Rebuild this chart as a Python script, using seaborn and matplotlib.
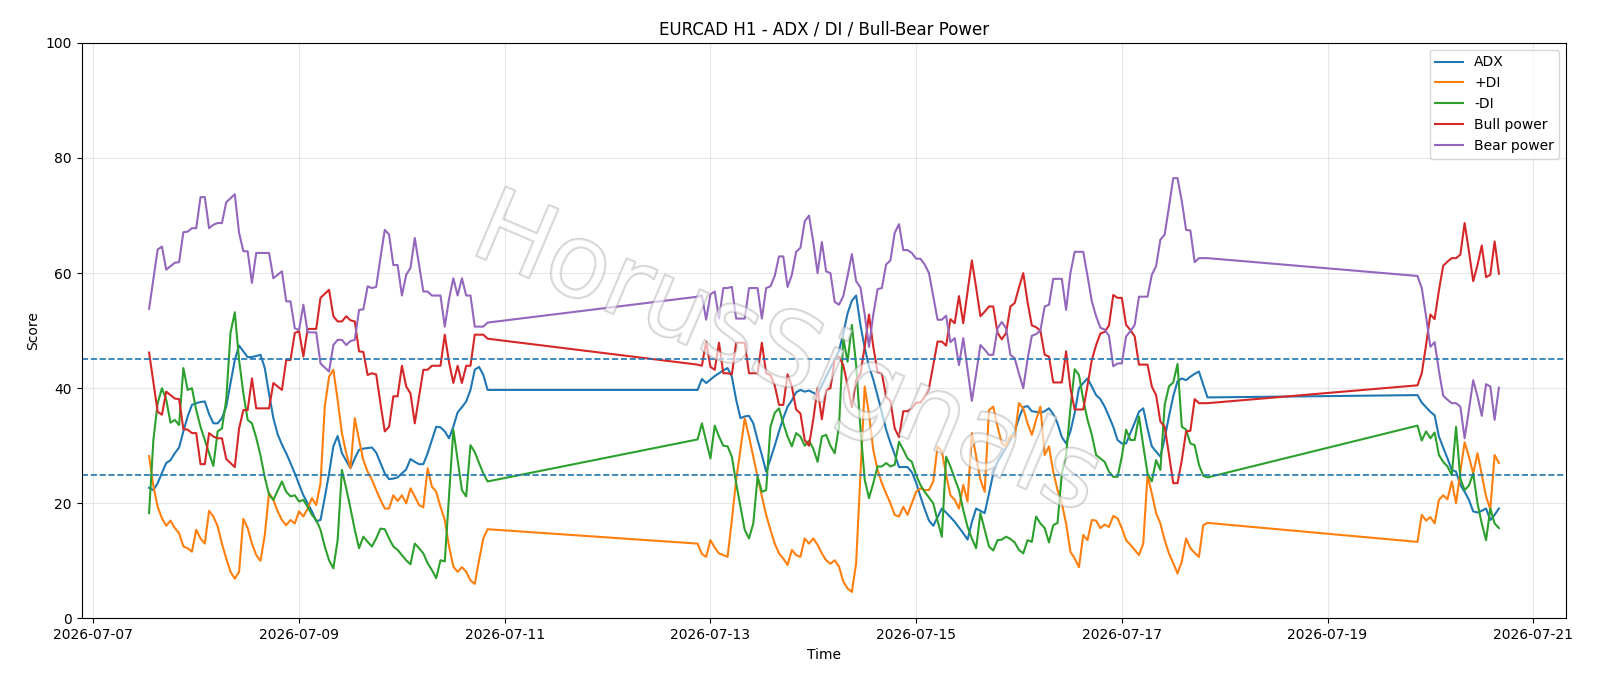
import matplotlib
matplotlib.use("Agg")
import matplotlib.pyplot as plt
import matplotlib.dates as mdates
import matplotlib.patheffects as pe
import pandas as pd
import seaborn as sns

# Hourly bars, three trading blocks separated by weekend / data gaps
seg_starts = ["2026-07-07 13:00", "2026-07-12 21:00", "2026-07-19 21:00"]
seg_sizes = [80, 120, 20]

adx = [
    # block 1
    22.7, 22.3, 23.5, 25.3, 27.0, 27.5, 28.7, 29.7, 32.5, 35.1,
    37.1, 37.4, 37.6, 37.7, 35.5, 33.9, 33.9, 34.8, 36.8, 40.9,
    44.9, 47.4, 46.4, 45.4, 45.4, 45.6, 45.8, 43.5, 39.0, 34.8,
    32.0, 30.2, 28.7, 27.0, 25.2, 23.3, 21.4, 20.0, 18.6, 16.9,
    17.1, 21.0, 25.2, 29.9, 31.7, 28.7, 27.4, 26.1, 27.8, 29.3,
    29.5, 29.6, 29.7, 28.8, 27.0, 25.2, 24.2, 24.3, 24.5, 25.2,
    25.9, 27.7, 27.2, 26.8, 26.8, 28.7, 31.0, 33.3, 33.2, 32.5,
    31.3, 33.3, 35.8, 36.7, 37.7, 39.7, 43.2, 43.7, 42.3, 39.7,
    # block 2
    39.7, 41.6, 40.9, 41.5, 42.1, 42.6, 43.1, 43.5, 42.0, 38.0,
    34.8, 35.1, 35.2, 33.9, 31.0, 28.4, 25.5, 27.7, 30.0, 32.5,
    34.8, 36.8, 37.9, 39.3, 39.7, 39.4, 39.6, 39.2, 38.8, 40.5,
    42.0, 43.5, 45.0, 46.5, 49.5, 53.0, 55.2, 56.1, 51.0, 47.0,
    43.8, 41.5, 38.7, 35.8, 32.8, 30.5, 28.5, 26.3, 26.3, 26.3,
    25.4, 23.6, 21.2, 19.0, 17.0, 16.1, 17.6, 19.1, 18.4, 17.6,
    16.8, 15.8, 14.8, 13.7, 16.7, 19.1, 18.7, 18.3, 21.7, 25.2,
    27.2, 28.4, 29.7, 31.0, 32.5, 34.8, 36.7, 36.9, 36.0, 35.9,
    35.7, 36.0, 36.5, 35.5, 33.9, 31.5, 30.4, 32.5, 35.7, 40.0,
    40.9, 41.7, 40.3, 38.8, 38.1, 36.8, 35.1, 33.3, 31.0, 30.4,
    30.4, 32.2, 34.0, 35.9, 36.5, 33.0, 29.9, 29.0, 28.1, 31.3,
    35.1, 38.6, 41.2, 41.7, 41.4, 42.0, 42.5, 42.9, 40.6, 38.4,
    # block 3
    38.8, 37.5, 36.7, 35.9, 35.3, 31.6, 29.7, 27.8, 25.8, 25.5,
    23.2, 22.0, 20.6, 18.6, 18.4, 18.7, 19.1, 17.1, 18.0, 19.1,
]

plus_di = [
    28.2, 23.0, 19.4, 17.4, 16.1, 17.0, 15.7, 14.8, 12.5, 12.2,
    11.6, 15.4, 13.9, 13.0, 18.7, 17.7, 16.0, 13.0, 10.4, 8.1,
    6.9, 8.1, 17.3, 15.7, 13.0, 11.0, 10.0, 14.5, 21.8, 20.6,
    18.6, 17.1, 16.2, 17.1, 16.5, 18.6, 17.7, 19.1, 20.9, 19.7,
    23.5, 36.8, 42.0, 43.2, 38.0, 32.2, 28.7, 26.1, 34.8, 31.0,
    27.5, 25.5, 24.1, 22.3, 20.6, 19.1, 19.1, 21.4, 20.4, 21.4,
    20.0, 22.6, 21.2, 19.7, 19.3, 26.1, 22.9, 22.0, 19.4, 17.1,
    12.5, 9.0, 8.1, 8.9, 8.1, 6.6, 6.0, 10.1, 13.9, 15.5,
    13.0, 11.2, 10.7, 13.6, 12.3, 11.3, 11.0, 10.7, 17.1, 24.1,
    29.3, 34.8, 31.6, 28.1, 24.6, 21.2, 18.0, 15.4, 13.0, 11.3,
    10.4, 9.3, 11.9, 11.0, 10.7, 13.9, 13.0, 13.9, 12.8, 11.3,
    10.1, 9.5, 10.1, 9.0, 6.4, 5.2, 4.6, 9.6, 25.0, 40.3,
    35.5, 29.3, 25.8, 23.5, 21.7, 20.0, 18.0, 17.7, 19.4, 18.0,
    20.0, 22.0, 22.6, 22.3, 22.3, 23.8, 29.9, 29.0, 25.0, 21.4,
    20.6, 19.1, 23.2, 20.3, 32.2, 28.1, 24.1, 22.0, 36.2, 36.8,
    33.3, 30.4, 29.9, 31.7, 31.6, 37.4, 36.5, 33.9, 31.9, 34.5,
    36.8, 28.4, 29.9, 25.5, 22.3, 20.0, 16.5, 11.6, 10.4, 8.9,
    14.5, 13.6, 17.1, 17.0, 15.7, 16.3, 15.9, 17.8, 17.4, 15.7,
    13.6, 12.8, 11.9, 11.0, 13.0, 24.9, 21.7, 18.3, 16.5, 13.6,
    11.3, 9.6, 7.8, 9.9, 13.9, 12.2, 11.4, 10.7, 16.2, 16.6,
    13.3, 18.0, 17.0, 17.6, 16.5, 20.6, 21.4, 20.7, 23.8, 20.0,
    25.5, 30.6, 28.1, 25.2, 28.7, 25.0, 21.2, 19.0, 28.4, 27.0,
]

minus_di = [
    18.3, 31.0, 37.4, 40.0, 38.0, 34.0, 34.5, 33.6, 43.5, 39.7,
    40.0, 36.2, 33.3, 31.0, 28.7, 26.5, 32.5, 33.0, 38.0, 49.6,
    53.2, 44.9, 39.1, 34.5, 33.9, 31.4, 28.3, 24.5, 21.5, 20.6,
    22.2, 23.8, 22.0, 21.2, 21.4, 20.3, 20.6, 19.4, 18.0, 17.1,
    15.4, 12.5, 10.1, 8.7, 13.6, 25.8, 22.6, 19.1, 15.4, 12.2,
    14.2, 13.3, 12.5, 13.9, 15.6, 15.5, 13.9, 12.5, 11.9, 11.0,
    10.1, 9.4, 13.0, 12.2, 11.3, 9.6, 8.4, 7.0, 10.1, 9.9,
    21.3, 32.8, 27.5, 22.3, 21.2, 30.1, 28.9, 27.0, 25.2, 23.8,
    31.1, 33.9, 30.8, 27.8, 33.5, 31.6, 30.0, 29.9, 28.1, 23.5,
    19.4, 15.4, 13.9, 16.5, 24.6, 22.0, 22.3, 33.3, 35.7, 36.5,
    33.9, 31.6, 29.9, 32.2, 31.6, 30.0, 30.9, 29.5, 27.2, 31.6,
    31.9, 30.0, 28.7, 33.3, 48.7, 44.6, 51.0, 44.0, 33.0, 24.1,
    20.9, 23.5, 26.4, 26.4, 27.0, 26.4, 26.7, 30.7, 29.3, 27.8,
    27.2, 24.9, 23.2, 22.0, 21.0, 20.0, 17.0, 14.2, 28.1, 26.4,
    24.3, 22.3, 18.8, 15.9, 13.9, 12.2, 18.3, 15.4, 12.5, 11.8,
    13.6, 13.7, 14.2, 13.8, 13.2, 11.9, 11.3, 13.6, 13.3, 17.7,
    16.5, 15.7, 13.2, 16.2, 16.6, 25.2, 28.4, 36.5, 43.3, 42.3,
    38.0, 34.5, 31.9, 28.4, 27.8, 27.2, 25.5, 24.6, 24.6, 28.1,
    32.8, 31.0, 31.0, 35.1, 30.0, 25.2, 23.8, 27.5, 25.8, 37.1,
    40.3, 41.0, 44.2, 33.3, 32.8, 30.4, 30.1, 26.7, 24.8, 24.5,
    33.5, 30.9, 32.5, 31.3, 32.3, 28.4, 27.2, 26.4, 24.9, 33.3,
    24.3, 22.3, 23.1, 25.2, 20.0, 16.5, 13.6, 19.1, 16.5, 15.7,
]

bull_power = [
    46.2, 41.0, 35.9, 35.4, 39.4, 38.8, 38.2, 38.1, 32.9, 32.8,
    32.2, 32.2, 26.8, 26.8, 32.2, 31.6, 31.3, 31.3, 27.7, 27.0,
    26.3, 33.0, 36.2, 36.2, 41.7, 36.5, 36.5, 36.5, 36.5, 40.9,
    40.3, 39.7, 44.9, 44.9, 49.6, 49.9, 45.5, 50.3, 50.3, 50.3,
    55.7, 56.4, 57.1, 52.5, 51.6, 51.6, 52.5, 51.8, 51.6, 46.4,
    46.3, 42.3, 42.6, 42.4, 37.3, 32.5, 33.3, 38.6, 38.6, 43.9,
    40.3, 39.1, 33.9, 38.5, 43.2, 43.2, 43.9, 43.9, 43.9, 49.3,
    44.5, 40.9, 43.9, 40.9, 43.9, 43.9, 49.3, 49.3, 49.3, 48.6,
    44.1, 43.9, 48.1, 43.7, 43.2, 47.9, 42.6, 42.6, 42.4, 47.9,
    47.9, 47.9, 42.6, 42.6, 42.6, 47.9, 42.6, 42.3, 40.5, 37.1,
    37.1, 42.4, 40.3, 36.3, 35.6, 31.0, 30.0, 34.6, 40.0, 34.6,
    39.7, 40.0, 45.0, 45.5, 44.0, 40.5, 36.7, 41.4, 42.5, 47.2,
    52.8, 47.2, 42.8, 42.6, 38.5, 37.8, 33.0, 31.5, 36.0, 36.0,
    36.5, 37.5, 37.5, 38.5, 40.0, 44.0, 48.1, 48.1, 47.4, 52.0,
    51.3, 56.0, 51.3, 56.7, 62.2, 57.5, 52.5, 53.3, 54.2, 54.2,
    49.6, 48.5, 49.6, 54.2, 54.8, 57.5, 60.0, 55.0, 50.9, 50.6,
    50.0, 45.8, 45.5, 41.0, 41.0, 41.0, 46.4, 40.0, 36.3, 36.3,
    36.3, 40.5, 44.9, 47.5, 49.5, 49.8, 50.9, 56.2, 55.7, 55.7,
    51.0, 50.1, 49.0, 44.1, 44.1, 44.1, 40.3, 38.8, 34.2, 33.3,
    28.5, 23.5, 23.5, 27.5, 32.5, 32.6, 38.1, 37.4, 37.4, 37.4,
    40.5, 42.6, 47.5, 52.8, 52.0, 57.0, 61.3, 62.0, 62.6, 62.6,
    63.2, 68.7, 63.8, 58.6, 61.4, 64.8, 59.3, 59.7, 65.5, 59.9,
]

bear_power = [
    53.8, 59.0, 64.1, 64.6, 60.6, 61.2, 61.8, 61.9, 67.1, 67.2,
    67.8, 67.8, 73.2, 73.2, 67.8, 68.4, 68.7, 68.7, 72.3, 73.0,
    73.7, 67.0, 63.8, 63.8, 58.3, 63.5, 63.5, 63.5, 63.5, 59.1,
    59.7, 60.3, 55.1, 55.1, 50.4, 50.1, 54.5, 49.7, 49.7, 49.7,
    44.3, 43.6, 42.9, 47.5, 48.4, 48.4, 47.5, 48.2, 48.4, 53.6,
    53.7, 57.7, 57.4, 57.6, 62.7, 67.5, 66.7, 61.4, 61.4, 56.1,
    59.7, 60.9, 66.1, 61.5, 56.8, 56.8, 56.1, 56.1, 56.1, 50.7,
    55.5, 59.1, 56.1, 59.1, 56.1, 56.1, 50.7, 50.7, 50.7, 51.4,
    55.9, 56.1, 51.9, 56.3, 56.8, 52.1, 57.4, 57.4, 57.6, 52.1,
    52.1, 52.1, 57.4, 57.4, 57.4, 52.1, 57.4, 57.7, 59.5, 62.9,
    62.9, 57.6, 59.7, 63.7, 64.4, 69.0, 70.0, 65.4, 60.0, 65.4,
    60.3, 60.0, 55.0, 54.5, 56.0, 59.5, 63.3, 58.6, 57.5, 52.8,
    47.2, 52.8, 57.2, 57.4, 61.5, 62.2, 67.0, 68.5, 64.0, 64.0,
    63.5, 62.5, 62.5, 61.5, 60.0, 56.0, 51.9, 51.9, 52.6, 48.0,
    48.7, 44.0, 48.7, 43.3, 37.8, 42.5, 47.5, 46.7, 45.8, 45.8,
    50.4, 51.5, 50.4, 45.8, 45.2, 42.5, 40.0, 45.0, 49.1, 49.4,
    50.0, 54.2, 54.5, 59.0, 59.0, 59.0, 53.6, 60.0, 63.7, 63.7,
    63.7, 59.5, 55.1, 52.5, 50.5, 50.2, 49.1, 43.8, 44.3, 44.3,
    49.0, 49.9, 51.0, 55.9, 55.9, 55.9, 59.7, 61.2, 65.8, 66.7,
    71.5, 76.5, 76.5, 72.5, 67.5, 67.4, 61.9, 62.6, 62.6, 62.6,
    59.5, 57.4, 52.5, 47.2, 48.0, 43.0, 38.7, 38.0, 37.4, 37.4,
    36.8, 31.3, 36.2, 41.4, 38.6, 35.2, 40.7, 40.3, 34.5, 40.1,
]

series_names = ["ADX", "+DI", "-DI", "Bull power", "Bear power"]
series_colours = ["tab:blue", "tab:orange", "tab:green", "tab:red", "tab:purple"]
threshold_levels = [45, 25]

# Build the time axis
times = []
for start, size in zip(seg_starts, seg_sizes):
    times.extend(pd.date_range(start, periods=size, freq="h"))

df = pd.DataFrame({
    "Time": times,
    "ADX": adx,
    "+DI": plus_di,
    "-DI": minus_di,
    "Bull power": bull_power,
    "Bear power": bear_power,
})

# Plot
fig, ax = plt.subplots(figsize=(16, 6.86), dpi=100)
for name, colour in zip(series_names, series_colours):
    sns.lineplot(data=df, x="Time", y=name, ax=ax, label=name, color=colour, linewidth=1.5)

for level in threshold_levels:
    ax.axhline(level, linestyle="--", linewidth=1.2, color="tab:blue")

ax.set_ylim(0, 100)
ax.grid(True, alpha=0.3)
ax.xaxis.set_major_locator(mdates.DayLocator(bymonthday=range(1, 32, 2)))
ax.xaxis.set_major_formatter(mdates.DateFormatter("%Y-%m-%d"))
ax.set_title("EURCAD H1 - ADX / DI / Bull-Bear Power")
ax.set_xlabel("Time")
ax.set_ylabel("Score")
ax.legend(loc="upper right")

# Watermark
ax.text(0.475, 0.455, "HorusSignals", transform=ax.transAxes, fontsize=74,
        color="white", alpha=0.4, rotation=-23, ha="center", va="center", zorder=10,
        path_effects=[pe.withStroke(linewidth=1.6, foreground="#8c8c8c")])

fig.subplots_adjust(left=0.051, right=0.979, top=0.9375, bottom=0.0985)
plt.savefig("out.png")
